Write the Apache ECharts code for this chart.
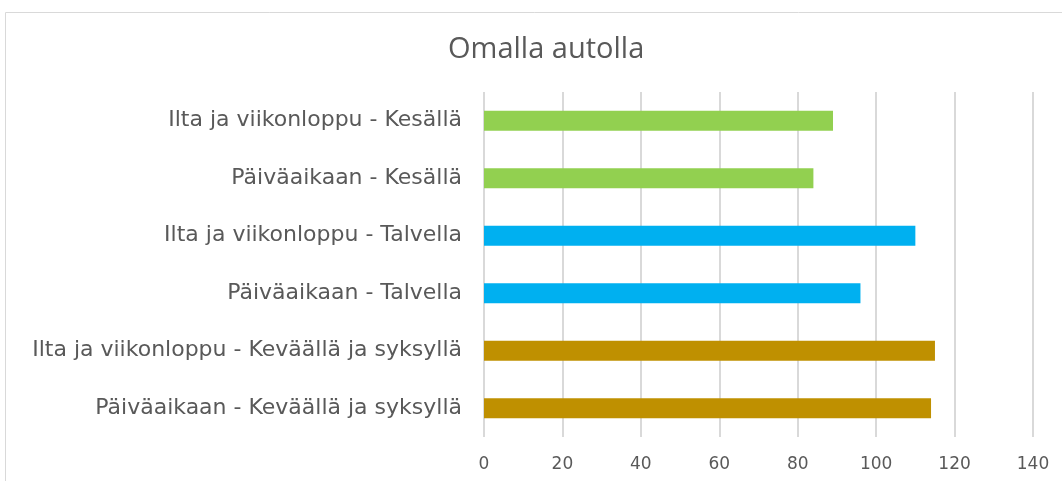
<!DOCTYPE html>
<html>
<head>
    <meta charset="UTF-8">
    <title>Omalla autolla</title>
    <script src="https://cdn.jsdelivr.net/npm/echarts@6/dist/echarts.min.js"></script>
    <style>
        html, body { margin: 0; padding: 0; background: #fff; }
        #chart { width: 1062px; height: 481px; }
    </style>
</head>
<body>
<div id="chart"></div>
<script type="text/javascript">
// data, listed bottom to top as ECharts draws a category y axis
var categories = [
    'Päiväaikaan - Keväällä ja syksyllä',
    'Ilta ja viikonloppu - Keväällä ja syksyllä',
    'Päiväaikaan - Talvella',
    'Ilta ja viikonloppu - Talvella',
    'Päiväaikaan - Kesällä',
    'Ilta ja viikonloppu - Kesällä'
];
var values = [114, 115, 96, 110, 84, 89];
var xTicks = [0, 20, 40, 60, 80, 100, 120, 140];

// colour per season
var barColors = ['#BF9000', '#BF9000', '#00B0F0', '#00B0F0', '#92D050', '#92D050'];

var labelFont = 'DejaVu Sans';

var myChart = echarts.init(document.getElementById('chart'));

var option = {
    animation: false,
    title: {
        text: 'Omalla autolla',
        left: 443,
        top: 30,
        textStyle: {
            fontFamily: 'Open Sans',
            fontWeight: 'normal',
            fontSize: 29,
            color: '#595959'
        }
    },
    graphic: [{
        type: 'rect',
        shape: { x: 5.5, y: 12.5, width: 1100, height: 500 },
        style: { fill: 'none', stroke: '#d9d9d9', lineWidth: 1 },
        silent: true
    }],
    grid: {
        left: 484,
        right: 29,
        top: 92,
        bottom: 44,
        containLabel: false
    },
    xAxis: {
        type: 'value',
        min: xTicks[0],
        max: xTicks[xTicks.length - 1],
        interval: 20,
        axisLine: { show: false },
        axisTick: { show: false },
        axisLabel: {
            margin: 19,
            fontFamily: labelFont,
            fontSize: 17,
            color: '#595959'
        },
        splitLine: { lineStyle: { color: '#d9d9d9', width: 2 } }
    },
    yAxis: {
        type: 'category',
        data: categories,
        axisLine: { show: false },
        axisTick: { show: false },
        axisLabel: {
            margin: 22,
            fontFamily: labelFont,
            fontSize: 22,
            color: '#595959'
        }
    },
    series: [{
        type: 'bar',
        barWidth: 20,
        data: values.map(function (v, i) {
            return { value: v, itemStyle: { color: barColors[i] } };
        })
    }]
};
myChart.setOption(option);
</script>
</body>
</html>
